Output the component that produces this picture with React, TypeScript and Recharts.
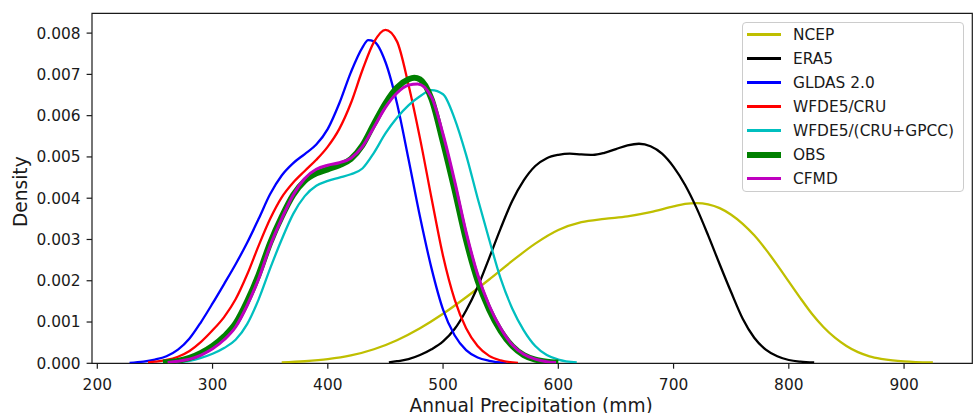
import React from 'react';
import { LineChart, Line, XAxis, YAxis, Legend, Label, ReferenceArea } from 'recharts';

// Kernel density estimates of annual precipitation (mm) per dataset.
const ncepX = [360, 380, 400, 420, 440, 460, 480, 500, 520, 540, 560, 580, 600, 620, 640, 660, 680, 700, 710, 720, 730, 740, 750, 760, 770, 780, 790, 800, 810, 820, 830, 840, 850, 860, 870, 880, 890, 900, 910, 925];
const ncepY = [0.02e-3, 0.05e-3, 0.1e-3, 0.19e-3, 0.34e-3, 0.56e-3, 0.85e-3, 1.2e-3, 1.6e-3, 2.03e-3, 2.48e-3, 2.9e-3, 3.23e-3, 3.42e-3, 3.5e-3, 3.56e-3, 3.66e-3, 3.8e-3, 3.86e-3, 3.88e-3, 3.85e-3, 3.76e-3, 3.6e-3, 3.38e-3, 3.1e-3, 2.76e-3, 2.38e-3, 1.98e-3, 1.58e-3, 1.2e-3, 0.88e-3, 0.62e-3, 0.42e-3, 0.27e-3, 0.17e-3, 0.11e-3, 0.07e-3, 0.045e-3, 0.03e-3, 0.02e-3];

const era5X = [453, 460, 470, 480, 490, 500, 510, 520, 530, 540, 550, 560, 570, 580, 590, 600, 610, 620, 630, 640, 650, 660, 670, 680, 690, 700, 710, 720, 730, 740, 750, 760, 770, 780, 790, 800, 810, 822];
const era5Y = [0.02e-3, 0.05e-3, 0.1e-3, 0.2e-3, 0.34e-3, 0.53e-3, 0.83e-3, 1.28e-3, 1.85e-3, 2.55e-3, 3.27e-3, 3.93e-3, 4.43e-3, 4.78e-3, 4.97e-3, 5.05e-3, 5.08e-3, 5.06e-3, 5.05e-3, 5.1e-3, 5.19e-3, 5.28e-3, 5.32e-3, 5.26e-3, 5.08e-3, 4.76e-3, 4.32e-3, 3.76e-3, 3.1e-3, 2.4e-3, 1.72e-3, 1.08e-3, 0.62e-3, 0.33e-3, 0.17e-3, 0.08e-3, 0.04e-3, 0.02e-3];

const gldasX = [228, 240, 250, 260, 270, 280, 290, 300, 310, 320, 330, 340, 350, 360, 370, 380, 390, 400, 410, 420, 430, 435, 440, 450, 460, 470, 480, 490, 500, 510, 520, 530, 540, 555];
const gldasY = [0.01e-3, 0.04e-3, 0.09e-3, 0.17e-3, 0.33e-3, 0.6e-3, 1.0e-3, 1.45e-3, 1.92e-3, 2.4e-3, 2.92e-3, 3.5e-3, 4.1e-3, 4.55e-3, 4.85e-3, 5.07e-3, 5.3e-3, 5.68e-3, 6.3e-3, 7.05e-3, 7.65e-3, 7.83e-3, 7.8e-3, 7.3e-3, 6.3e-3, 4.95e-3, 3.55e-3, 2.3e-3, 1.3e-3, 0.68e-3, 0.32e-3, 0.14e-3, 0.06e-3, 0.01e-3];

const wfdeCruX = [244, 250, 260, 270, 280, 290, 300, 310, 320, 330, 340, 350, 360, 370, 380, 390, 400, 410, 420, 430, 440, 450, 460, 470, 480, 490, 500, 510, 520, 530, 540, 550, 565];
const wfdeCruY = [0.02e-3, 0.04e-3, 0.08e-3, 0.16e-3, 0.3e-3, 0.52e-3, 0.8e-3, 1.12e-3, 1.55e-3, 2.15e-3, 2.85e-3, 3.5e-3, 4.02e-3, 4.38e-3, 4.66e-3, 4.93e-3, 5.25e-3, 5.68e-3, 6.3e-3, 7.1e-3, 7.78e-3, 8.08e-3, 7.8e-3, 6.75e-3, 5.45e-3, 4.0e-3, 2.6e-3, 1.55e-3, 0.85e-3, 0.42e-3, 0.18e-3, 0.07e-3, 0.01e-3];

const wfdeGpccX = [268, 280, 290, 300, 310, 320, 330, 340, 350, 360, 370, 380, 390, 400, 410, 420, 430, 440, 450, 460, 470, 480, 490, 500, 510, 520, 530, 540, 550, 560, 570, 580, 590, 600, 616];
const wfdeGpccY = [0.02e-3, 0.06e-3, 0.13e-3, 0.23e-3, 0.37e-3, 0.57e-3, 0.95e-3, 1.55e-3, 2.3e-3, 3.0e-3, 3.62e-3, 4.05e-3, 4.3e-3, 4.42e-3, 4.5e-3, 4.58e-3, 4.72e-3, 5.1e-3, 5.57e-3, 5.95e-3, 6.25e-3, 6.47e-3, 6.62e-3, 6.52e-3, 5.93e-3, 5.05e-3, 4.0e-3, 3.0e-3, 2.05e-3, 1.33e-3, 0.8e-3, 0.42e-3, 0.2e-3, 0.09e-3, 0.02e-3];

const obsX = [257, 270, 280, 290, 300, 310, 320, 330, 340, 350, 360, 370, 380, 390, 400, 410, 420, 430, 440, 450, 460, 470, 475, 480, 490, 500, 510, 520, 530, 540, 550, 560, 570, 580, 590, 600];
const obsY = [0.02e-3, 0.06e-3, 0.13e-3, 0.25e-3, 0.42e-3, 0.65e-3, 0.97e-3, 1.5e-3, 2.15e-3, 2.92e-3, 3.55e-3, 4.08e-3, 4.42e-3, 4.6e-3, 4.7e-3, 4.8e-3, 4.95e-3, 5.28e-3, 5.8e-3, 6.3e-3, 6.68e-3, 6.88e-3, 6.92e-3, 6.88e-3, 6.4e-3, 5.35e-3, 4.2e-3, 2.98e-3, 2.0e-3, 1.3e-3, 0.78e-3, 0.42e-3, 0.2e-3, 0.09e-3, 0.04e-3, 0.02e-3];

const cfmdX = [261, 270, 280, 290, 300, 310, 320, 330, 340, 350, 360, 370, 380, 390, 400, 410, 420, 430, 440, 450, 460, 470, 478, 490, 500, 510, 520, 530, 540, 550, 560, 570, 580, 590, 598];
const cfmdY = [0.02e-3, 0.05e-3, 0.1e-3, 0.2e-3, 0.35e-3, 0.57e-3, 0.88e-3, 1.4e-3, 2.05e-3, 2.85e-3, 3.5e-3, 4.08e-3, 4.48e-3, 4.7e-3, 4.8e-3, 4.86e-3, 4.97e-3, 5.25e-3, 5.72e-3, 6.2e-3, 6.55e-3, 6.74e-3, 6.77e-3, 6.45e-3, 5.55e-3, 4.42e-3, 3.18e-3, 2.15e-3, 1.4e-3, 0.85e-3, 0.45e-3, 0.22e-3, 0.1e-3, 0.04e-3, 0.02e-3];

const xTicks = [200, 300, 400, 500, 600, 700, 800, 900];
const yTicks = [0, 0.001, 0.002, 0.003, 0.004, 0.005, 0.006, 0.007, 0.008];
const xDomain: [number, number] = [195.4, 959.2];
const yDomain: [number, number] = [0, 0.00848];

const toPoints = (xs: number[], ys: number[]) => xs.map((x, i) => ({ x, y: ys[i] }));

const series = [
  { name: 'NCEP', color: '#bfbf00', width: 2.3, data: toPoints(ncepX, ncepY) },
  { name: 'ERA5', color: '#000000', width: 2.3, data: toPoints(era5X, era5Y) },
  { name: 'GLDAS 2.0', color: '#0000ff', width: 2.3, data: toPoints(gldasX, gldasY) },
  { name: 'WFDE5/CRU', color: '#ff0000', width: 2.3, data: toPoints(wfdeCruX, wfdeCruY) },
  { name: 'WFDE5/(CRU+GPCC)', color: '#00bfbf', width: 2.3, data: toPoints(wfdeGpccX, wfdeGpccY) },
  { name: 'OBS', color: '#008000', width: 6, data: toPoints(obsX, obsY) },
  { name: 'CFMD', color: '#bf00bf', width: 3, data: toPoints(cfmdX, cfmdY) },
];

const FONT = "'DejaVu Sans', sans-serif";
const INK = '#1a1a1a';
const tickStyle = { fontSize: 15.4, fill: INK, fontFamily: FONT };

// Legend rows follow the plotting order of the series.
const LegendBox = () => (
  <div
    style={{
      boxSizing: 'border-box',
      width: '100%',
      height: '100%',
      border: '1.5px solid #cccccc',
      borderRadius: 4,
      background: 'rgba(255,255,255,0.85)',
      fontFamily: FONT,
      fontSize: 15.4,
      color: INK,
    }}
  >
    {series.map((s) => (
      <div key={s.name} style={{ display: 'flex', alignItems: 'center', height: 24 }}>
        <div style={{ marginLeft: 4, width: 34, height: s.width, background: s.color }} />
        <span style={{ marginLeft: 12, lineHeight: '24px', whiteSpace: 'nowrap' }}>{s.name}</span>
      </div>
    ))}
  </div>
);

const DensityLabel = (props: any) => {
  const vb = props.viewBox;
  const x = vb.x + 26.7;
  const y = vb.y + vb.height / 2 + 3.4;
  return (
    <text x={x} y={y} transform={`rotate(-90, ${x}, ${y})`} textAnchor="middle" fontFamily={FONT} fontSize={18.6} fill={INK}>
      Density
    </text>
  );
};

const PrecipLabel = (props: any) => {
  const vb = props.viewBox;
  const x = vb.x + vb.width / 2 - 1;
  const y = vb.y + vb.height - 1.5;
  return (
    <text x={x} y={y} textAnchor="middle" fontFamily={FONT} fontSize={18.6} fill={INK}>
      Annual Precipitation (mm)
    </text>
  );
};

export default function App() {
  return (
    <div style={{ position: 'absolute', left: 0, top: 0, background: '#fff' }}>
      <LineChart width={973} height={413} margin={{ top: 13.3, right: 0.7, bottom: 0, left: 0 }}>
        <XAxis
          dataKey="x"
          type="number"
          domain={xDomain}
          ticks={xTicks}
          height={49.7}
          tick={tickStyle}
          tickSize={5.4}
          tickMargin={10}
          tickLine={{ stroke: INK, strokeWidth: 1.2 }}
          axisLine={false}
          allowDataOverflow
        >
          <Label content={PrecipLabel} />
        </XAxis>
        <YAxis
          dataKey="y"
          type="number"
          domain={yDomain}
          ticks={yTicks}
          width={92}
          tick={tickStyle}
          tickFormatter={(v: number) => v.toFixed(3)}
          tickSize={5.4}
          tickMargin={6}
          tickLine={{ stroke: INK, strokeWidth: 1.2 }}
          axisLine={false}
          allowDataOverflow
        >
          <Label content={DensityLabel} />
        </YAxis>
        {series.map((s) => (
          <Line
            key={s.name}
            name={s.name}
            data={s.data}
            dataKey="y"
            type="monotone"
            stroke={s.color}
            strokeWidth={s.width}
            dot={false}
            activeDot={false}
            isAnimationActive={false}
          />
        ))}
        {/* axes frame */}
        <ReferenceArea
          x1={xDomain[0]}
          x2={xDomain[1]}
          y1={yDomain[0]}
          y2={yDomain[1]}
          fill="none"
          fillOpacity={0}
          stroke={INK}
          strokeWidth={1.2}
          ifOverflow="visible"
        />
        <Legend
          layout="horizontal"
          verticalAlign="middle"
          align="center"
          content={LegendBox}
          wrapperStyle={{ left: 742, top: 21.5, width: 222, height: 170, margin: 0 }}
        />
      </LineChart>
    </div>
  );
}
